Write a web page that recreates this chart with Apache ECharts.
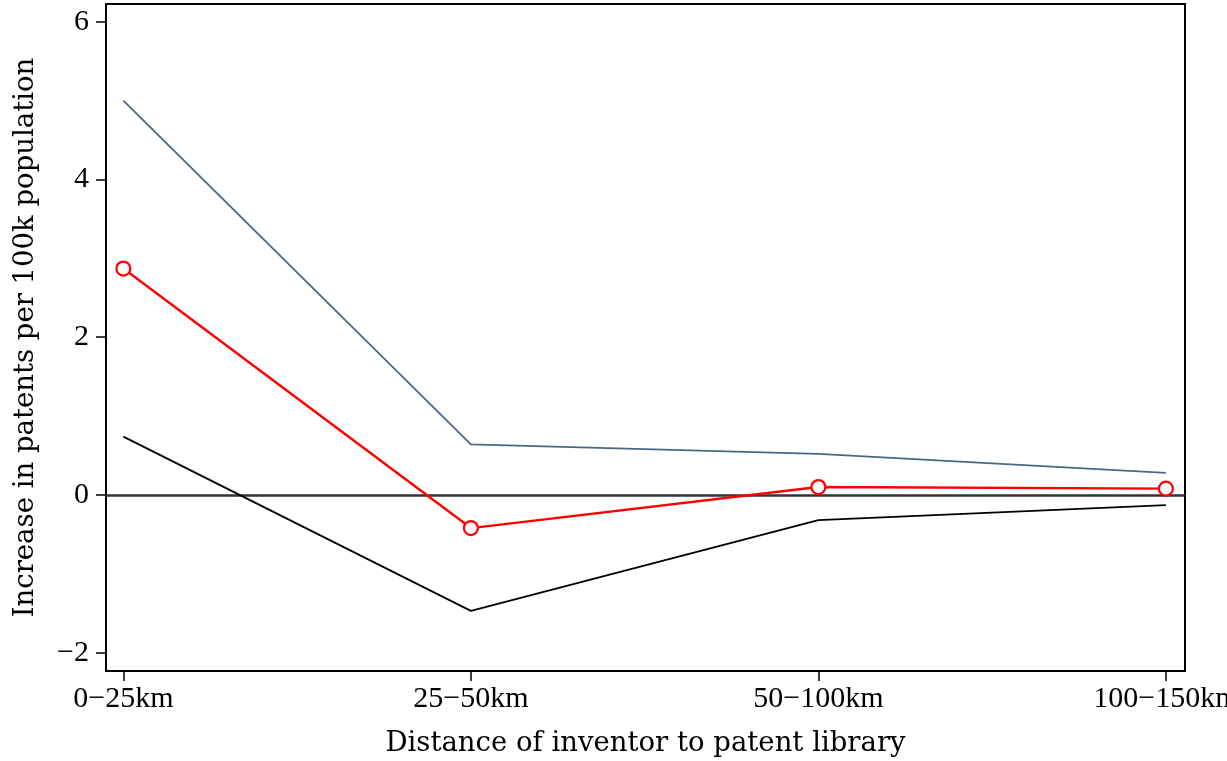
<!DOCTYPE html>
<html><head><meta charset="utf-8">
<script src="https://cdn.jsdelivr.net/npm/echarts@6/dist/echarts.min.js"></script>
<style>html,body{margin:0;padding:0;background:#fff}#c{width:1227px;height:761px}</style>
</head><body><div id="c"></div>
<script>
const categories = ['0\u221225km', '25\u221250km', '50\u2212100km', '100\u2212150km'];
const estimate = [2.87, -0.42, 0.10, 0.08];
const upperCI = [5.00, 0.64, 0.52, 0.28];
const lowerCI = [0.74, -1.47, -0.32, -0.13];
const yTicks = [-2, 0, 2, 4, 6];

const pts = arr => arr.map((v, i) => [i, v]);
const font = 'Liberation Serif';
const tfont = 'DejaVu Serif';
const chart = echarts.init(document.getElementById('c'));
chart.setOption({
  animation: false,
  grid: {left: 106, right: 42, top: 4, bottom: 90, show: true, borderColor: '#000', borderWidth: 2, backgroundColor: 'transparent', containLabel: false, outerBoundsMode: 'none'},
  xAxis: {
    type: 'value', min: -0.05, max: 3.055,
    name: 'Distance of inventor to patent library', nameLocation: 'middle', nameGap: 59,
    nameTextStyle: {fontFamily: tfont, fontSize: 27.5, color: '#000'},
    splitLine: {show: false},
    axisLine: {show: true, onZero: false, lineStyle: {color: '#000', width: 2}},
    axisTick: {show: true, length: 10, customValues: categories.map((c, i) => i), lineStyle: {color: '#000', width: 1.5}},
    axisLabel: {customValues: categories.map((c, i) => i), formatter: v => categories[Math.round(v)] || '', fontFamily: font, fontSize: 30, color: '#000', margin: 13, hideOverlap: false}
  },
  yAxis: {
    type: 'value', min: -2.232, max: 6.224,
    name: 'Increase in patents per 100k population', nameLocation: 'middle', nameGap: 66, nameRotate: 90,
    nameTextStyle: {fontFamily: tfont, fontSize: 27.5, color: '#000'},
    splitLine: {show: false},
    axisLine: {show: true, onZero: false, lineStyle: {color: '#000', width: 2}},
    axisTick: {show: true, length: 10, customValues: yTicks, lineStyle: {color: '#000', width: 1.5}},
    axisLabel: {customValues: yTicks, formatter: v => (v < 0 ? '\u2212' + Math.abs(v) : String(v)), fontFamily: font, fontSize: 30, color: '#000', margin: 17}
  },
  series: [
    {type: 'line', data: pts(upperCI), symbol: 'none', lineStyle: {color: '#4a6885', width: 1.8}, z: 3,
     markLine: {silent: true, symbol: 'none', label: {show: false}, lineStyle: {color: '#333333', width: 2.5, type: 'solid'}, emphasis: {disabled: true}, data: [{yAxis: 0}], z: 2}},
    {type: 'line', data: pts(lowerCI), symbol: 'none', lineStyle: {color: '#000', width: 1.8}, z: 3},
    {type: 'line', data: pts(estimate), symbol: 'circle', symbolSize: 14, showSymbol: true,
     itemStyle: {color: '#fff', borderColor: '#ff0000', borderWidth: 2.2},
     lineStyle: {color: '#ff0000', width: 2.4}, z: 4}
  ]
});
</script></body></html>
